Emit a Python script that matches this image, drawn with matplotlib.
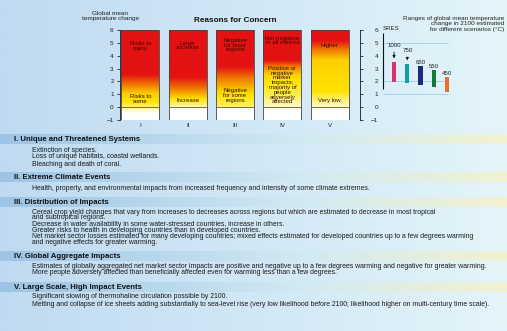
import numpy as np
import matplotlib.pyplot as plt
from matplotlib.colors import LinearSegmentedColormap, to_rgb

plt.rcParams["font.family"] = ["Liberation Sans", "DejaVu Sans"]

W, H = 507, 331

# ---- reasons for concern (burning embers) ----
reasons = ["I", "II", "III", "IV", "V"]
ember_temps = [
    [-0.5, -0.1, 0.4, 1.0, 1.7, 2.5],
    [-0.15, 0.1, 0.6, 1.4, 2.3],
    [-0.01, 0.0, 1.2, 2.2, 3.1],
    [-0.01, 0.0, 1.0, 2.5, 3.1, 3.6],
    [-0.01, 0.0, 1.2, 3.6, 4.4, 5.1],
]
ember_levels = [
    [0.0, 0.3, 0.5, 0.55, 0.75, 1.0],
    [0.0, 0.3, 0.5, 0.75, 1.0],
    [0.0, 0.35, 0.55, 0.75, 1.0],
    [0.0, 0.2, 0.4, 0.55, 0.75, 1.0],
    [0.0, 0.2, 0.5, 0.55, 0.75, 1.0],
]
top_labels = ["Risks to\nmany", "Large\nincrease", "Negative\nfor most\nregions",
              "Net negative\nin all metrics", "Higher"]
top_label_y = [4.76, 4.8, 4.83, 5.18, 4.78]
low_labels = ["Risks to\nsome", "Increase", "Negative\nfor some\nregions",
              "Positive or\nnegative\nmarket\nimpacts;\nmajority of\npeople\nadversely\naffected",
              "Very low"]
low_label_y = [0.63, 0.55, 0.9, 1.72, 0.48]

# ---- scenario ranges in 2100 ----
scenarios = ["1000", "750", "650", "550", "450"]
scen_low = [1.98, 1.85, 1.72, 1.54, 1.2]
scen_high = [3.53, 3.36, 3.2, 2.89, 2.32]
scen_colors = ["#e03068", "#139ea6", "#1c2a7c", "#127a34", "#e8702c"]
sres_low, sres_high = 1.4, 5.8

# ---- text panel ----
sections = [
    "I. Unique and Threatened Systems",
    "II. Extreme Climate Events",
    "III. Distribution of Impacts",
    "IV. Global Aggregate Impacts",
    "V. Large Scale, High Impact Events",
]
section_items = [
    ["Extinction of species.",
     "Loss of unique habitats, coastal wetlands.",
     "Bleaching and death of coral."],
    ["Health, property, and environmental impacts from increased frequency and intensity of some climate extremes."],
    ["Cereal crop yield changes that vary from increases to decreases across regions but which are estimated to decrease in most tropical\nand subtropical regions.",
     "Decrease in water availability in some water-stressed countries, increase in others.",
     "Greater risks to health in developing countries than in developed countries.",
     "Net market sector losses estimated for many developing countries; mixed effects estimated for developed countries up to a few degrees warming\nand negative effects for greater warming."],
    ["Estimates of globally aggregated net market sector impacts are positive and negative up to a few degrees warming and negative for greater warming.",
     "More people adversely affected than beneficially affected even for warming less than a few degrees."],
    ["Significant slowing of thermohaline circulation possible by 2100.",
     "Melting and collapse of ice sheets adding substantially to sea-level rise (very low likelihood before 2100; likelihood higher on multi-century time scale)."],
]
section_y = [139, 177, 202, 256, 287]
item_y = [[149, 156, 163], [187], [211, 223, 230, 236], [266, 272], [296, 304]]

ember_cmap = LinearSegmentedColormap.from_list(
    "ember", [(0.0, "#ffffff"), (0.25, "#fff7b0"), (0.5, "#ffe400"),
              (0.75, "#f07c00"), (1.0, "#e41212")])

fig = plt.figure(figsize=(W / 100, H / 100), dpi=100)

# background page, drawn in pixel units
bg = fig.add_axes([0, 0, 1, 1], zorder=-5)
bg.set_xlim(0, W)
bg.set_ylim(H, 0)
bg.axis("off")
grad = np.linspace(0, 1, 256)[None, :, None]
c0 = np.array(to_rgb("#bfdaf1"))
c1 = np.array(to_rgb("#e4f5fa"))
bg.imshow(c0 + (c1 - c0) * grad, extent=(0, W, H, 0), aspect="auto", zorder=0)

b0 = np.array(to_rgb("#9cc4e6"))
b1 = np.array(to_rgb("#d2eaf2"))
b2 = np.array(to_rgb("#f2f2d2"))
g = np.linspace(0, 1, 256)
band = np.where(g[:, None] < 0.6,
                b0 + (b1 - b0) * (g[:, None] / 0.6),
                b1 + (b2 - b1) * ((g[:, None] - 0.6) / 0.4))[None, :, :]
for title, y, items, ys in zip(sections, section_y, section_items, item_y):
    bg.imshow(band, extent=(0, W, y + 5, y - 4.5), aspect="auto", zorder=1)
    bg.text(14, y + 0.5, title, fontsize=5.6, fontweight="bold", color="#111111",
            va="center", ha="left", zorder=3)
    for text, yy in zip(items, ys):
        for k, line in enumerate(text.split("\n")):
            bg.text(32, yy + 1 + 5.6 * k, line, fontsize=4.95, color="#1a1a1a",
                    va="center", ha="left", zorder=3)

bg.text(110, 16, "Global mean\ntemperature change", fontsize=4.6, color="#222222",
        ha="center", va="center", linespacing=1.05)
bg.text(235, 20, "Reasons for Concern", fontsize=5.9, fontweight="bold",
        color="#111111", ha="center", va="center")
bg.text(504, 24, "Ranges of global mean temperature\nchange in 2100 estimated\nfor different scenarios (\u00b0C)",
        fontsize=4.6, color="#222222", ha="right", va="center", linespacing=1.2)

# ember axes
ax = fig.add_axes([120 / W, 1 - 120 / H, 231 / W, 90 / H])
ax.patch.set_alpha(0)
for s in ["top", "right", "bottom"]:
    ax.spines[s].set_visible(False)
ax.spines["left"].set_linewidth(0.7)
ax.spines["left"].set_color("#333333")
ax.set_xticks([])
ax.set_yticks(range(-1, 7))
ax.tick_params(axis="y", length=2.5, width=0.6, pad=2, labelsize=4.6,
               colors="#222222")

temps = np.linspace(-1, 6, 400)
for i, name in enumerate(reasons):
    lev = np.interp(temps, ember_temps[i], ember_levels[i], left=0.0, right=1.0)
    ax.imshow(lev[:, None], cmap=ember_cmap, vmin=0, vmax=1, origin="lower",
              extent=(i - 0.4, i + 0.4, -1, 6), aspect="auto", zorder=1)
    ax.bar(i, 7, bottom=-1, width=0.8, fill=False, edgecolor="#444444",
           linewidth=0.6, zorder=2)
    ax.hlines(0, i - 0.4, i + 0.4, color="#6b5a10", linewidth=0.6, zorder=2)
    ax.text(i, top_label_y[i], top_labels[i], fontsize=4.3, color="#3a0a00",
            ha="center", va="center", linespacing=0.95, zorder=3)
    ax.text(i, low_label_y[i], low_labels[i], fontsize=4.3, color="#2a1400",
            ha="center", va="center", linespacing=0.95, zorder=3)
    ax.text(i, -1.4, name, fontsize=4.6, color="#222222", ha="center",
            va="center", clip_on=False)
ax.set_xlim(-0.43, 4.45)
ax.set_ylim(-1, 6)

# scenario axes
ax2 = fig.add_axes([360 / W, 1 - 120 / H, 100 / W, 90 / H])
ax2.set_xlim(-1.57, 5.98)
ax2.set_ylim(-1, 6)
ax2.patch.set_alpha(0)
for s in ["top", "right", "bottom"]:
    ax2.spines[s].set_visible(False)
ax2.spines["left"].set_linewidth(0.7)
ax2.spines["left"].set_color("#333333")
ax2.set_xticks([])
ax2.set_yticks(range(-1, 7))
ax2.tick_params(axis="y", direction="in", length=2.5, width=0.6, pad=-13,
                labelsize=4.6, colors="#222222")

xs = np.arange(1, len(scenarios) + 1)
sres_x = 0.17
ax2.hlines([1, 2, 5], sres_x, xs[-1] + 0.1, color="#9fd6ee", linewidth=0.7, zorder=1)
ax2.vlines(sres_x, sres_low, sres_high, color="#111111", linewidth=0.8, zorder=2)
ax2.text(sres_x, 6.1, "SRES", fontsize=4.4, color="#222222", ha="left", va="center")
heights = np.array(scen_high) - np.array(scen_low)
ax2.bar(xs, heights, bottom=scen_low, width=0.32, color=scen_colors, zorder=3)
label_gap = [1.25, 1.03, 0.31, 0.26, 0.26]
for x, top, name, gap in zip(xs, scen_high, scenarios, label_gap):
    ax2.text(x, top + gap, name, fontsize=4.4, color="#222222", ha="center",
             va="center", zorder=4)
    if gap > 0.5:
        ax2.annotate("", xy=(x, top + 0.05), xytext=(x, top + gap - 0.28),
                     arrowprops=dict(arrowstyle="-|>", color="#111111", lw=0.6,
                                     mutation_scale=4), zorder=4)

fig.savefig("out.png", dpi=100)
